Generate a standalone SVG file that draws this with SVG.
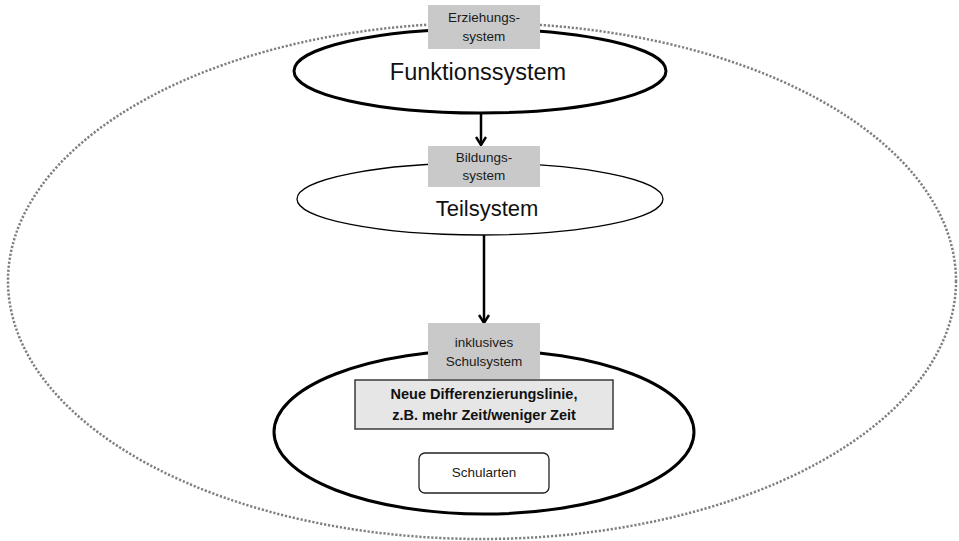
<svg xmlns="http://www.w3.org/2000/svg" width="959" height="541" viewBox="0 0 959 541">
<style>
.lbl{fill:#c9c9c9;stroke:none}
.small{font-family:"Liberation Sans",Arial,sans-serif;font-size:13.5px;fill:#1a1a1a;text-anchor:middle}
.big{font-family:"Liberation Sans",Arial,sans-serif;fill:#111;text-anchor:middle}
.conn{stroke:#000;stroke-width:2.5;fill:none}
</style>
<defs>
<marker id="arr" viewBox="0 0 12 12" refX="10" refY="6" markerWidth="12" markerHeight="12" markerUnits="userSpaceOnUse" orient="auto">
<path d="M2,1 L10,6 L2,11" fill="none" stroke="#000" stroke-width="2.4"/>
</marker>
</defs>
<rect width="959" height="541" fill="#fff"/>
<ellipse id="outer" cx="482" cy="281" rx="474" ry="258" fill="none" stroke="#7f7f7f" stroke-width="2.5" stroke-dasharray="2.2 1.8"/>
<g id="connectors">
<line class="conn" x1="481" y1="113" x2="481" y2="145" marker-end="url(#arr)"/>
<line class="conn" x1="484" y1="235" x2="484" y2="323" marker-end="url(#arr)"/>
</g>
<g id="funktionssystem">
<ellipse cx="480" cy="71" rx="186" ry="42" fill="#fff" stroke="#000" stroke-width="3"/>
<text class="big" x="478" y="80" font-size="23.5">Funktionssystem</text>
</g>
<g id="erziehungssystem">
<rect class="lbl" x="428" y="5" width="112" height="44"/>
<text class="small" x="484" y="22">Erziehungs-</text>
<text class="small" x="484" y="41">system</text>
</g>
<g id="teilsystem">
<ellipse cx="480" cy="199" rx="183" ry="36" fill="#fff" stroke="#000" stroke-width="1.3"/>
<text class="big" x="487" y="216" font-size="22">Teilsystem</text>
</g>
<g id="bildungssystem">
<rect class="lbl" x="428" y="146" width="112" height="41"/>
<text class="small" x="484" y="162">Bildungs-</text>
<text class="small" x="484" y="180">system</text>
</g>
<g id="schulsystem-ellipse">
<ellipse cx="484" cy="432" rx="210" ry="82" fill="#fff" stroke="#000" stroke-width="3"/>
</g>
<g id="inklusives-schulsystem">
<rect class="lbl" x="428" y="323" width="112" height="56"/>
<text class="small" x="484" y="347">inklusives</text>
<text class="small" x="484" y="366">Schulsystem</text>
</g>
<g id="differenzierungslinie">
<rect x="355" y="380" width="258" height="49" fill="#e6e6e6" stroke="#3a3a3a" stroke-width="1.5"/>
<text class="big" x="484" y="399" font-size="14.5" font-weight="bold">Neue Differenzierungslinie,</text>
<text class="big" x="484" y="420" font-size="14.5" font-weight="bold">z.B. mehr Zeit/weniger Zeit</text>
</g>
<g id="schularten">
<rect x="419" y="453" width="130" height="40" rx="6" ry="6" fill="#fff" stroke="#222" stroke-width="1.3"/>
<text class="small" x="484" y="477" font-size="13">Schularten</text>
</g>
</svg>
